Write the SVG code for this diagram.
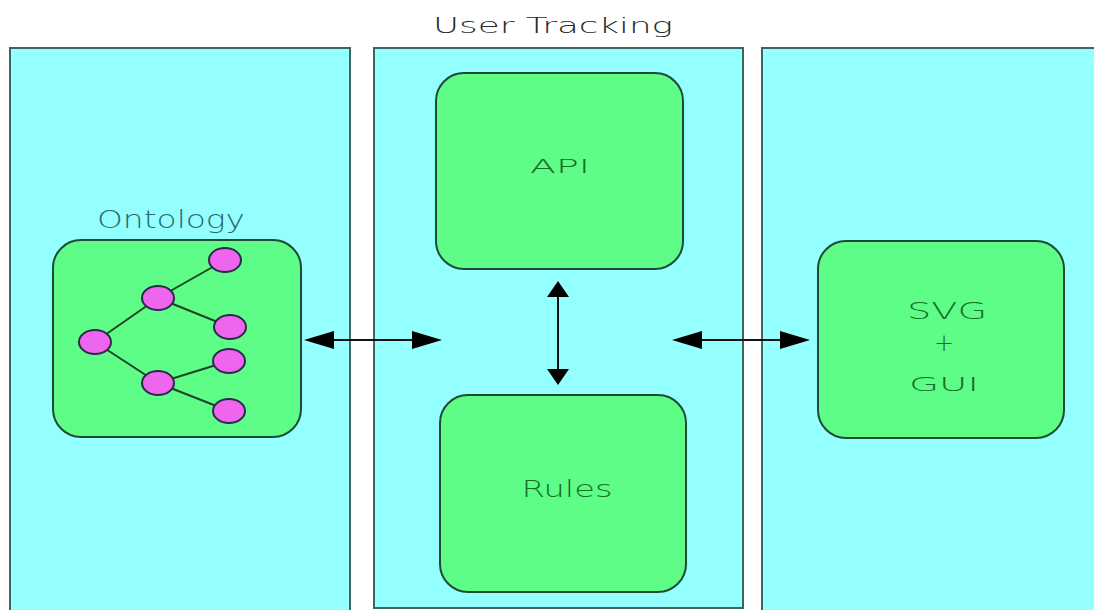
<svg xmlns="http://www.w3.org/2000/svg" width="1094" height="610" viewBox="0 0 1094 610">
  <style>
    .panel { fill: #93ffff; stroke: #3f6464; stroke-width: 2; }
    .box { fill: #5dfd87; stroke: #1f4a33; stroke-width: 2; }
    .label { font-family: "DejaVu Sans", "Liberation Sans", sans-serif; font-weight: 300; fill: #16702a; text-anchor: middle; }
    .title { font-family: "DejaVu Sans", "Liberation Sans", sans-serif; font-weight: 300; fill: #2a2a2a; }
    .edge { stroke: #1c4424; stroke-width: 2; fill: none; }
    .leaf { fill: #ee66ee; stroke: #2a2a4a; stroke-width: 2; }
    .conn { stroke: #111; stroke-width: 2; fill: none; }
    .head { fill: #000; }
  </style>

  <rect width="1094" height="610" fill="#ffffff"/>

  <!-- three columns -->
  <g id="panel-left">
    <rect class="panel" x="10" y="48" width="340" height="580"/>
  </g>
  <g id="panel-center">
    <rect class="panel" x="374" y="48" width="369" height="560"/>
    <text class="title" x="433" y="33" font-size="22" textLength="240" lengthAdjust="spacingAndGlyphs">User Tracking</text>
  </g>
  <g id="panel-right">
    <rect class="panel" x="762" y="48" width="345" height="580"/>
  </g>

  <!-- ontology tree -->
  <g id="ontology">
    <text x="97" y="228" font-size="25" font-family="DejaVu Sans, Liberation Sans, sans-serif" font-weight="300" fill="#2b6970" textLength="148" lengthAdjust="spacingAndGlyphs">Ontology</text>
    <rect class="box" x="53" y="240" width="248" height="197" rx="28" ry="28"/>
    <line class="edge" x1="95" y1="342" x2="158" y2="298"/>
    <line class="edge" x1="95" y1="342" x2="158" y2="383"/>
    <line class="edge" x1="158" y1="298" x2="225" y2="260"/>
    <line class="edge" x1="158" y1="298" x2="230" y2="327"/>
    <line class="edge" x1="158" y1="383" x2="229" y2="361"/>
    <line class="edge" x1="158" y1="383" x2="229" y2="411"/>
    <ellipse class="leaf" cx="95" cy="342" rx="16" ry="12"/>
    <ellipse class="leaf" cx="158" cy="298" rx="16" ry="12"/>
    <ellipse class="leaf" cx="158" cy="383" rx="16" ry="12"/>
    <ellipse class="leaf" cx="225" cy="260" rx="16" ry="12"/>
    <ellipse class="leaf" cx="230" cy="327" rx="16" ry="12"/>
    <ellipse class="leaf" cx="229" cy="361" rx="16" ry="12"/>
    <ellipse class="leaf" cx="229" cy="411" rx="16" ry="12"/>
  </g>

  <g id="api">
    <rect class="box" x="436" y="73" width="247" height="196" rx="28" ry="28"/>
    <text class="label" x="560" y="173" font-size="20" textLength="60" lengthAdjust="spacingAndGlyphs">API</text>
  </g>

  <g id="rules">
    <rect class="box" x="440" y="395" width="246" height="197" rx="28" ry="28"/>
    <text class="label" x="567" y="497" font-size="23" textLength="91" lengthAdjust="spacingAndGlyphs">Rules</text>
  </g>

  <g id="svg-gui">
    <rect class="box" x="818" y="241" width="246" height="197" rx="28" ry="28"/>
    <text class="label" x="947" y="319" font-size="23" textLength="80" lengthAdjust="spacingAndGlyphs">SVG</text>
    <text class="label" x="944" y="351" font-size="24">+</text>
    <text class="label" x="944" y="391" font-size="20" textLength="70" lengthAdjust="spacingAndGlyphs">GUI</text>
  </g>

  <!-- connectors -->
  <g id="connectors">
    <line class="conn" x1="320" y1="340" x2="425" y2="340"/>
    <polygon class="head" points="304,340 334,331 334,349"/>
    <polygon class="head" points="442,340 412,331 412,349"/>

    <line class="conn" x1="558" y1="292" x2="558" y2="375"/>
    <polygon class="head" points="558,281 547,297 569,297"/>
    <polygon class="head" points="558,385 547,369 569,369"/>

    <line class="conn" x1="688" y1="340" x2="795" y2="340"/>
    <polygon class="head" points="672,340 702,331 702,349"/>
    <polygon class="head" points="810,340 780,331 780,349"/>
  </g>
</svg>
